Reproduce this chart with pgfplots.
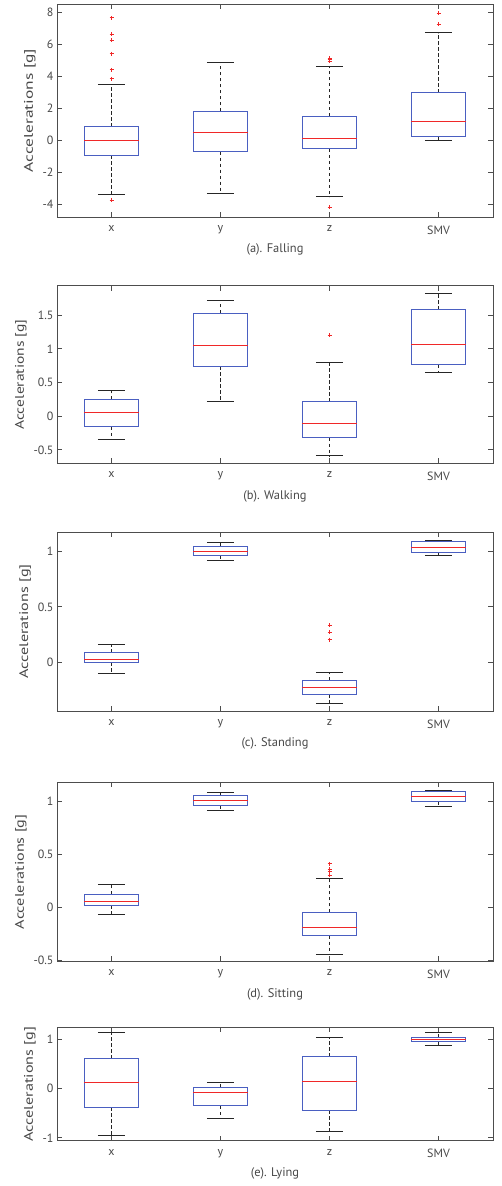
\documentclass[border=0pt]{standalone}
\usepackage{fontspec}
\setmainfont{PT Sans}
\usepackage{graphicx}
\usepackage{pgfplots}
\pgfplotsset{compat=1.18}
\usepgfplotslibrary{statistics}

\definecolor{axisgray}{HTML}{4D4D4D}
\definecolor{textgray}{HTML}{474747}
\definecolor{boxblue}{HTML}{4A5FC1}
\definecolor{medred}{HTML}{F02828}

\pgfplotsset{
  acc/.style={
    scale only axis, width=436bp,
    anchor=north west,
    xmin=0.5, xmax=4.5,
    xtick={1,2,3,4}, xticklabels={x,y,z,SMV},
    tick align=inside, major tick length=5bp,
    tick pos=both,
    axis line style={axisgray, line width=0.9bp},
    every tick/.style={axisgray, line width=0.9bp},
    tick label style={font=\fontsize{12}{14}\selectfont, text=textgray},
    xticklabel style={yshift=-5bp},
    label style={font=\fontsize{12.5}{15}\selectfont, text=textgray},
    xlabel style={yshift=-3bp},
    /pgf/number format/assume math mode=true,
    /pgf/number format/fixed,
    boxplot/draw direction=y,
    boxplot/box extend=0.5,
    boxplot/whisker extend=0.25,
    boxplot/every box/.style={draw=boxblue, line width=1bp},
    boxplot/every median/.style={draw=medred, line width=1bp},
    boxplot/draw/lower whisker/.code={
      \draw[black!85, line width=1bp, dash pattern=on 3.5bp off 2.5bp]
        (boxplot box cs:\pgfplotsboxplotvalue{lower quartile},0.5) --
        (boxplot box cs:\pgfplotsboxplotvalue{lower whisker},0.5);
      \draw[black!85, line width=1bp]
        (boxplot whisker cs:\pgfplotsboxplotvalue{lower whisker},0) --
        (boxplot whisker cs:\pgfplotsboxplotvalue{lower whisker},1);
    },
    boxplot/draw/upper whisker/.code={
      \draw[black!85, line width=1bp, dash pattern=on 3.5bp off 2.5bp]
        (boxplot box cs:\pgfplotsboxplotvalue{upper quartile},0.5) --
        (boxplot box cs:\pgfplotsboxplotvalue{upper whisker},0.5);
      \draw[black!85, line width=1bp]
        (boxplot whisker cs:\pgfplotsboxplotvalue{upper whisker},0) --
        (boxplot whisker cs:\pgfplotsboxplotvalue{upper whisker},1);
    },
  },
  bx/.style={color=medred, mark=+, mark size=2bp,
    mark options={draw=medred, solid, line width=1bp}},
}

\begin{document}
\begin{tikzpicture}
\useasboundingbox (0,0) rectangle (502bp,-1186bp);

% (a) Falling
\begin{axis}[acc, at={(57bp,-4bp)}, height=213bp,
  ymin=-4.77, ymax=8.54, ytick={-4,-2,0,2,4,6,8},
  ylabel={\scalebox{1.4}[1]{Accelerations [g]}}, xlabel={(a). Falling}]
\addplot[bx, boxplot prepared={draw position=1, median=0, upper quartile=0.875,
  lower quartile=-0.9, upper whisker=3.48, lower whisker=-3.35}]
  coordinates {(1,7.67) (1,6.65) (1,6.27) (1,5.44) (1,4.42) (1,3.87) (1,-3.73)};
\addplot[bx, boxplot prepared={draw position=2, median=0.5, upper quartile=1.83,
  lower quartile=-0.69, upper whisker=4.9, lower whisker=-3.29}]
  coordinates {};
\addplot[bx, boxplot prepared={draw position=3, median=0.15, upper quartile=1.54,
  lower quartile=-0.52, upper whisker=4.62, lower whisker=-3.52}]
  coordinates {(3,5.15) (3,5.05) (3,4.95) (3,-4.15)};
\addplot[bx, boxplot prepared={draw position=4, median=1.19, upper quartile=3.0,
  lower quartile=0.27, upper whisker=6.75, lower whisker=0.0}]
  coordinates {(4,7.96) (4,7.27)};
\end{axis}

% (b) Walking
\begin{axis}[acc, at={(57bp,-285.7bp)}, height=177.6bp,
  ymin=-0.70, ymax=1.936, ytick={-0.5,0,0.5,1,1.5},
  ylabel={\scalebox{1.25}[1]{Accelerations [g]}}, xlabel={(b). Walking}]
\addplot[bx, boxplot prepared={draw position=1, median=0.05, upper quartile=0.248,
  lower quartile=-0.158, upper whisker=0.376, lower whisker=-0.342}]
  coordinates {};
\addplot[bx, boxplot prepared={draw position=2, median=1.045, upper quartile=1.53,
  lower quartile=0.743, upper whisker=1.718, lower whisker=0.213}]
  coordinates {};
\addplot[bx, boxplot prepared={draw position=3, median=-0.104, upper quartile=0.213,
  lower quartile=-0.317, upper whisker=0.802, lower whisker=-0.589}]
  coordinates {(3,1.203)};
\addplot[bx, boxplot prepared={draw position=4, median=1.064, upper quartile=1.579,
  lower quartile=0.762, upper whisker=1.822, lower whisker=0.649}]
  coordinates {};
\end{axis}

% (c) Standing
\begin{axis}[acc, at={(57bp,-532bp)}, height=179bp,
  ymin=-0.444, ymax=1.178, ytick={0,0.5,1},
  ylabel={\scalebox{1.3}[1]{Accelerations [g]}}, xlabel={(c). Standing}]
\addplot[bx, boxplot prepared={draw position=1, median=0.027, upper quartile=0.082,
  lower quartile=-0.003, upper whisker=0.163, lower whisker=-0.1}]
  coordinates {};
\addplot[bx, boxplot prepared={draw position=2, median=1.003, upper quartile=1.048,
  lower quartile=0.967, upper whisker=1.079, lower whisker=0.921}]
  coordinates {};
\addplot[bx, boxplot prepared={draw position=3, median=-0.227, upper quartile=-0.166,
  lower quartile=-0.293, upper whisker=-0.097, lower whisker=-0.375}]
  coordinates {(3,0.335) (3,0.269) (3,0.202)};
\addplot[bx, boxplot prepared={draw position=4, median=1.039, upper quartile=1.088,
  lower quartile=0.994, upper whisker=1.1, lower whisker=0.967}]
  coordinates {};
\end{axis}

% (d) Sitting
\begin{axis}[acc, at={(57bp,-782.3bp)}, height=179bp,
  ymin=-0.508, ymax=1.18, ytick={-0.5,0,0.5,1},
  ylabel={\scalebox{1.3}[1]{Accelerations [g]}}, xlabel={(d). Sitting}]
\addplot[bx, boxplot prepared={draw position=1, median=0.057, upper quartile=0.123,
  lower quartile=0.019, upper whisker=0.218, lower whisker=-0.063}]
  coordinates {};
\addplot[bx, boxplot prepared={draw position=2, median=1.009, upper quartile=1.057,
  lower quartile=0.959, upper whisker=1.082, lower whisker=0.911}]
  coordinates {};
\addplot[bx, boxplot prepared={draw position=3, median=-0.187, upper quartile=-0.047,
  lower quartile=-0.266, upper whisker=0.275, lower whisker=-0.44}]
  coordinates {(3,0.411) (3,0.358) (3,0.335) (3,0.304)};
\addplot[bx, boxplot prepared={draw position=4, median=1.044, upper quartile=1.095,
  lower quartile=1.003, upper whisker=1.104, lower whisker=0.949}]
  coordinates {};
\end{axis}

% (e) Lying
\begin{axis}[acc, at={(57bp,-1027.3bp)}, height=113.4bp,
  ymin=-1.06, ymax=1.244, ytick={-1,0,1},
  ylabel={\scalebox{1.3}[1]{Accelerations [g]}}, xlabel={(e). Lying}]
\addplot[bx, boxplot prepared={draw position=1, median=0.129, upper quartile=0.61,
  lower quartile=-0.38, upper whisker=1.132, lower whisker=-0.956}]
  coordinates {};
\addplot[bx, boxplot prepared={draw position=2, median=-0.075, upper quartile=0.014,
  lower quartile=-0.353, upper whisker=0.129, lower whisker=-0.617}]
  coordinates {};
\addplot[bx, boxplot prepared={draw position=3, median=0.142, upper quartile=0.651,
  lower quartile=-0.441, upper whisker=1.044, lower whisker=-0.881}]
  coordinates {};
\addplot[bx, boxplot prepared={draw position=4, median=1.003, upper quartile=1.037,
  lower quartile=0.949, upper whisker=1.146, lower whisker=0.881}]
  coordinates {};
\end{axis}
\end{tikzpicture}
\end{document}
